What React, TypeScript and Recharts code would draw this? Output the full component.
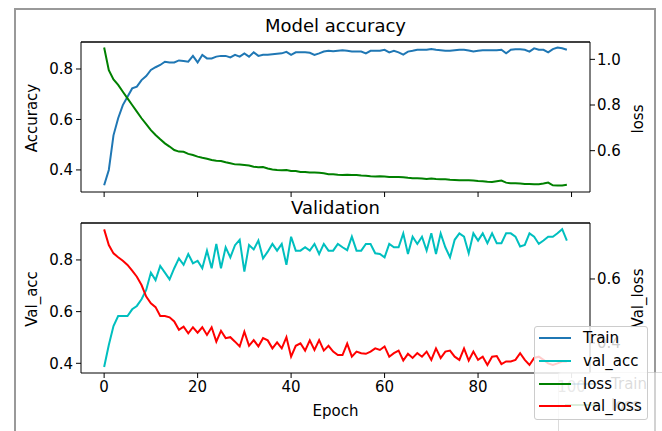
import { LineChart, Line, XAxis, YAxis, ReferenceLine } from "recharts";

const EPOCHS = Array.from({ length: 100 }, (_, i) => i);
const X_TICKS = [0, 20, 40, 60, 80, 100];

const TRAIN_ACC = [
  0.339, 0.4, 0.537, 0.605, 0.657, 0.69, 0.723, 0.73, 0.756, 0.772,
  0.796, 0.807, 0.816, 0.829, 0.826, 0.826, 0.834, 0.832, 0.829, 0.852,
  0.826, 0.856, 0.842, 0.842, 0.849, 0.852, 0.852, 0.846, 0.856, 0.849,
  0.862, 0.849, 0.866, 0.852, 0.856, 0.856, 0.858, 0.86, 0.862, 0.868,
  0.856, 0.866, 0.866, 0.866, 0.864, 0.856, 0.862, 0.869, 0.872, 0.87,
  0.872, 0.874, 0.872, 0.869, 0.869, 0.869, 0.862, 0.872, 0.872, 0.872,
  0.876, 0.866, 0.872, 0.866, 0.857, 0.869, 0.872, 0.876, 0.876, 0.876,
  0.879, 0.876, 0.874, 0.872, 0.872, 0.874, 0.876, 0.876, 0.873, 0.869,
  0.872, 0.874, 0.874, 0.874, 0.874, 0.876, 0.862, 0.876, 0.878, 0.878,
  0.876, 0.869, 0.882, 0.876, 0.876, 0.866, 0.879, 0.885, 0.882, 0.876,
];

const TRAIN_LOSS = [
  1.052, 0.953, 0.912, 0.888, 0.858, 0.829, 0.8, 0.771, 0.742, 0.716,
  0.69, 0.669, 0.65, 0.632, 0.618, 0.603, 0.596, 0.595, 0.586, 0.581,
  0.574, 0.569, 0.565, 0.559, 0.556, 0.555, 0.549, 0.545, 0.54, 0.539,
  0.537, 0.535, 0.53, 0.527, 0.528, 0.522, 0.518, 0.515, 0.514, 0.515,
  0.511, 0.511, 0.507, 0.507, 0.504, 0.504, 0.503, 0.501, 0.497, 0.497,
  0.495, 0.494, 0.495, 0.494, 0.493, 0.491, 0.49, 0.488, 0.487, 0.488,
  0.487, 0.485, 0.485, 0.485, 0.484, 0.481, 0.479, 0.479, 0.478, 0.476,
  0.478, 0.476, 0.475, 0.475, 0.473, 0.472, 0.47, 0.47, 0.47, 0.469,
  0.467, 0.466, 0.464, 0.463, 0.466, 0.469, 0.46, 0.457, 0.457, 0.456,
  0.454, 0.454, 0.453, 0.453, 0.456, 0.46, 0.448, 0.447, 0.448, 0.451,
];

const VAL_ACC = [
  0.386, 0.471, 0.544, 0.583, 0.583, 0.583, 0.609, 0.622, 0.648, 0.684,
  0.751, 0.722, 0.777, 0.751, 0.725, 0.768, 0.806, 0.781, 0.823, 0.787,
  0.797, 0.768, 0.836, 0.768, 0.862, 0.768, 0.849, 0.81, 0.857, 0.878,
  0.755, 0.858, 0.841, 0.875, 0.806, 0.832, 0.862, 0.836, 0.862, 0.781,
  0.89, 0.836, 0.836, 0.849, 0.836, 0.862, 0.823, 0.862, 0.836, 0.836,
  0.862, 0.849, 0.838, 0.89, 0.836, 0.836, 0.862, 0.862, 0.826, 0.823,
  0.81, 0.862, 0.849, 0.849, 0.903, 0.823, 0.89, 0.862, 0.89, 0.836,
  0.903, 0.823, 0.903, 0.849, 0.81, 0.878, 0.903, 0.89, 0.826, 0.903,
  0.875, 0.903, 0.865, 0.903, 0.865, 0.865, 0.903, 0.903, 0.89, 0.852,
  0.858, 0.903, 0.89, 0.862, 0.875, 0.89, 0.89, 0.903, 0.919, 0.875,
];

const VAL_LOSS = [
  0.755, 0.706, 0.68, 0.668, 0.657, 0.644, 0.626, 0.607, 0.581, 0.545,
  0.524, 0.512, 0.484, 0.484, 0.48, 0.467, 0.441, 0.451, 0.43, 0.449,
  0.432, 0.449, 0.425, 0.449, 0.404, 0.438, 0.415, 0.418, 0.404, 0.389,
  0.435, 0.391, 0.409, 0.389, 0.415, 0.408, 0.383, 0.402, 0.383, 0.418,
  0.357, 0.391, 0.399, 0.376, 0.408, 0.378, 0.409, 0.376, 0.391, 0.373,
  0.362, 0.362, 0.398, 0.357, 0.373, 0.368, 0.366, 0.373, 0.383, 0.378,
  0.389, 0.357, 0.368, 0.376, 0.345, 0.366, 0.353, 0.368, 0.357, 0.373,
  0.347, 0.383, 0.353, 0.373, 0.376, 0.357, 0.347, 0.383, 0.345, 0.373,
  0.347, 0.357, 0.331, 0.357, 0.359, 0.334, 0.342, 0.342, 0.347, 0.368,
  0.347, 0.331, 0.353, 0.357, 0.347, 0.336, 0.331, 0.336, 0.342, 0.342,
];

const LEGEND = [
  { name: "Train", color: "#1f77b4" },
  { name: "val_acc", color: "#00bfbf" },
  { name: "loss", color: "#008000" },
  { name: "val_loss", color: "#ff0000" },
];

const rows = EPOCHS.map((e, i) => ({
  epoch: e,
  acc: TRAIN_ACC[i],
  loss: TRAIN_LOSS[i],
  valAcc: VAL_ACC[i],
  valLoss: VAL_LOSS[i],
}));

const X_DOMAIN: [number, number] = [-4.95, 103.95];
const ACC_DOMAIN: [number, number] = [0.3125, 0.907];
const LOSS_DOMAIN: [number, number] = [0.419, 1.076];
const VACC_DOMAIN: [number, number] = [0.3625, 0.943];
const VLOSS_DOMAIN: [number, number] = [0.306, 0.775];

const tickStyle = { fill: "#000", fontSize: 15 };
const fmt = (v: number) => v.toFixed(1);

const text = (s: string, x: number, y: number, size: number, rotate = false) => (
  <div
    style={{
      position: "absolute",
      left: x,
      top: y,
      fontSize: size,
      lineHeight: 1,
      whiteSpace: "nowrap",
      color: "#000",
      transform: `translate(-50%, -50%)${rotate ? " rotate(-90deg)" : ""}`,
    }}
  >
    {s}
  </div>
);

export default function App() {
  return (
    <div
      style={{
        position: "absolute",
        left: 0,
        top: 0,
        width: 662,
        height: 431,
        background: "#fff",
        overflow: "hidden",
        fontFamily: "'DejaVu Sans', sans-serif",
      }}
    >
      <div
        style={{
          position: "absolute",
          left: 14,
          top: 8,
          width: 642,
          height: 440,
          border: "2px solid #999",
          boxSizing: "border-box",
        }}
      />

      <div style={{ position: "absolute", left: 0, top: 0 }}>
        <LineChart width={662} height={200} data={rows} margin={{ top: 42, right: 0, bottom: 0, left: 0 }}>
          <XAxis
            dataKey="epoch"
            type="number"
            domain={X_DOMAIN}
            ticks={X_TICKS}
            tickFormatter={() => ""}
            height={8}
            tickSize={5}
            stroke="#000"
            allowDataOverflow
          />
          <YAxis
            yAxisId="acc"
            width={81}
            type="number"
            domain={ACC_DOMAIN}
            ticks={[0.4, 0.6, 0.8]}
            tickFormatter={fmt}
            tick={tickStyle}
            tickSize={5}
            tickMargin={3}
            stroke="#000"
            allowDataOverflow
          />
          <YAxis
            yAxisId="loss"
            orientation="right"
            width={72}
            type="number"
            domain={LOSS_DOMAIN}
            ticks={[0.6, 0.8, 1.0]}
            tickFormatter={fmt}
            tick={tickStyle}
            tickSize={5}
            tickMargin={2}
            stroke="#000"
            allowDataOverflow
          />
          <ReferenceLine yAxisId="acc" y={ACC_DOMAIN[1]} stroke="#000" strokeWidth={1.5} ifOverflow="visible" />
          <Line yAxisId="acc" dataKey="acc" stroke="#1f77b4" strokeWidth={2} dot={false} isAnimationActive={false} />
          <Line yAxisId="loss" dataKey="loss" stroke="#008000" strokeWidth={2} dot={false} isAnimationActive={false} />
        </LineChart>
      </div>

      <div style={{ position: "absolute", left: 0, top: 200 }}>
        <LineChart width={662} height={200} data={rows} margin={{ top: 23, right: 0, bottom: 0, left: 0 }}>
          <XAxis
            dataKey="epoch"
            type="number"
            domain={X_DOMAIN}
            ticks={X_TICKS}
            height={27}
            tickSize={5}
            tickMargin={3}
            tick={tickStyle}
            stroke="#000"
            allowDataOverflow
          />
          <YAxis
            yAxisId="vacc"
            width={81}
            type="number"
            domain={VACC_DOMAIN}
            ticks={[0.4, 0.6, 0.8]}
            tickFormatter={fmt}
            tick={tickStyle}
            tickSize={5}
            tickMargin={3}
            stroke="#000"
            allowDataOverflow
          />
          <YAxis
            yAxisId="vloss"
            orientation="right"
            width={72}
            type="number"
            domain={VLOSS_DOMAIN}
            ticks={[0.4, 0.6]}
            tickFormatter={fmt}
            tick={tickStyle}
            tickSize={5}
            tickMargin={2}
            stroke="#000"
            allowDataOverflow
          />
          <ReferenceLine yAxisId="vacc" y={VACC_DOMAIN[1]} stroke="#000" strokeWidth={1.5} ifOverflow="visible" />
          <Line yAxisId="vacc" dataKey="valAcc" stroke="#00bfbf" strokeWidth={2} dot={false} isAnimationActive={false} />
          <Line yAxisId="vloss" dataKey="valLoss" stroke="#ff0000" strokeWidth={2} dot={false} isAnimationActive={false} />
        </LineChart>
      </div>

      {text("Model accuracy", 335.5, 26, 18)}
      {text("Validation", 335.5, 207.5, 18)}
      {text("Epoch", 335.5, 411, 15)}
      {text("Accuracy", 32, 117.5, 15, true)}
      {text("loss", 638, 119, 15, true)}
      {text("Val_acc", 31.5, 299, 15, true)}
      {text("Val_loss", 638, 298, 15, true)}

      {/* faint legend sitting behind the main one */}
      <div
        style={{
          position: "absolute",
          left: 558,
          top: 372,
          width: 110,
          height: 62,
          border: "1px solid #ccc",
          borderRadius: 3,
          background: "rgba(255,255,255,0.8)",
          boxSizing: "border-box",
          opacity: 0.7,
        }}
      >
        {[LEGEND[0], LEGEND[2]].map((s) => (
          <div key={s.name} style={{ display: "flex", alignItems: "center", height: 21, fontSize: 15 }}>
            <div style={{ width: 32, height: 2, background: s.color, marginLeft: 6, marginRight: 14 }} />
            <span>{s.name}</span>
          </div>
        ))}
      </div>

      <div
        style={{
          position: "absolute",
          left: 534,
          top: 326,
          width: 114,
          height: 94,
          border: "1px solid #ccc",
          borderRadius: 3,
          background: "rgba(255,255,255,0.8)",
          boxSizing: "border-box",
        }}
      >
        {LEGEND.map((s) => (
          <div key={s.name} style={{ display: "flex", alignItems: "center", height: 22.7, fontSize: 15 }}>
            <div style={{ width: 32, height: 2, background: s.color, marginLeft: 4, marginRight: 12 }} />
            <span>{s.name}</span>
          </div>
        ))}
      </div>
    </div>
  );
}
